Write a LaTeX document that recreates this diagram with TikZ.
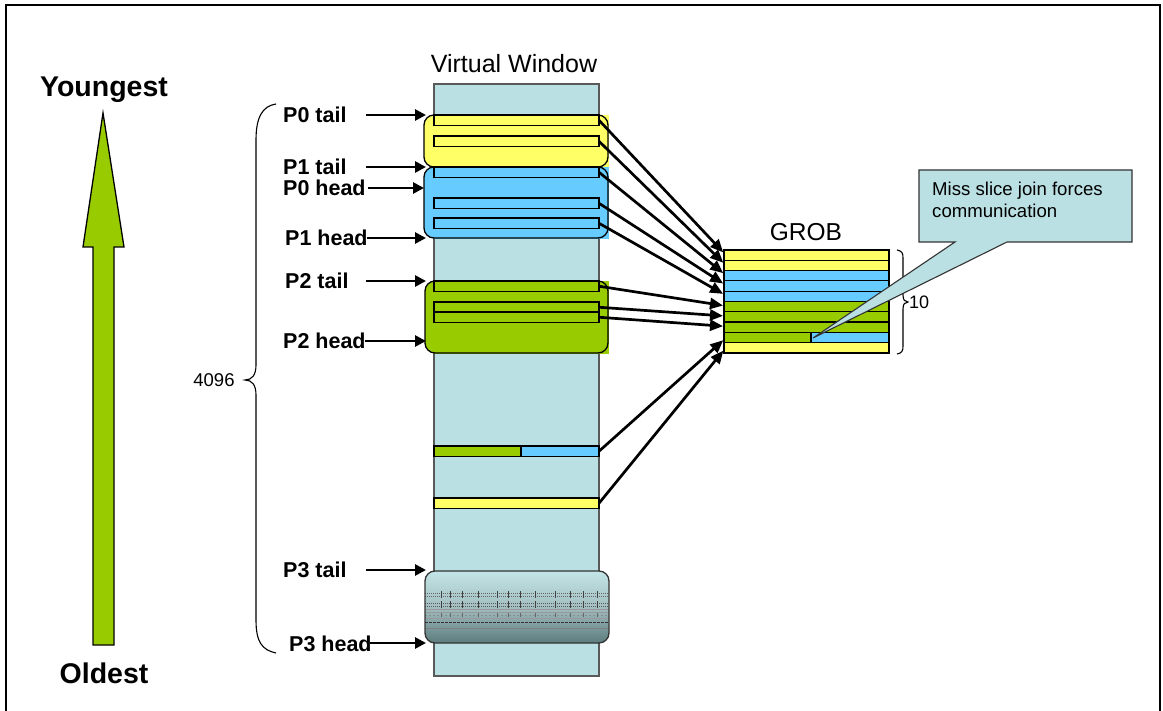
\documentclass[tikz,border=0pt]{standalone}
\usepackage{fontspec}
\setmainfont{Liberation Sans}
\usetikzlibrary{arrows.meta}
\definecolor{colbg}{HTML}{BBE0E3}
\definecolor{ylw}{HTML}{FFFF66}
\definecolor{blu}{HTML}{66CCFF}
\definecolor{grn}{HTML}{99CC00}
\definecolor{p3top}{HTML}{C4E5E7}
\definecolor{p3mid}{HTML}{A2BEC0}
\definecolor{p3bot}{HTML}{5C7C7D}
\tikzset{
  slot/.style={draw=black, line width=1.3pt, anchor=north west, inner sep=0pt, outer sep=0pt, minimum width=165pt, minimum height=10.5pt},
  grobrow/.style={draw=black, line width=1.2pt, anchor=north west, inner sep=0pt, outer sep=0pt, minimum width=165pt, minimum height=10.3pt},
  regline/.style={draw=black, line width=1.3pt, rounded corners=10pt},
  lab/.style={font=\bfseries\fontsize{21.5}{24}\selectfont, anchor=base west, inner sep=0pt},
  big/.style={font=\bfseries\fontsize{28.5}{32}\selectfont, anchor=base, inner sep=0pt},
  ptr/.style={line width=2.7pt, -{Triangle[length=11pt,width=11pt]}},
  garr/.style={line width=2.7pt, -{Triangle[length=13pt,width=11pt]}, shorten >=1pt},
  brace/.style={line width=1.1pt, draw=black},
}
\begin{document}
\begin{tikzpicture}[x=1pt,y=-1pt]
\useasboundingbox (0,0) rectangle (1163,711);
\fill[white] (0,0) rectangle (1163,711);
\draw[line width=2pt] (6,5) rectangle (1160,725);

% big green arrow
\draw[fill=grn, line width=1.3pt, line join=miter] (93,645) -- (93,247) -- (83,247) -- (103,113) -- (124,247) -- (114,247) -- (114,645) -- cycle;
\node[big] (young) at (104,97) {Youngest};
\node[big] (old) at (104,683) {Oldest};

% virtual window column
\node[anchor=base, inner sep=0pt, font=\fontsize{25}{28}\selectfont] (vw) at (514,73) {Virtual Window};
\draw[fill=colbg, draw=black!65, line width=1.1pt] (434,84) rectangle (599,676);

% yellow region
\fill[ylw] (434,115) rectangle (609,167);
\fill[ylw, rounded corners=10pt] (424,115) rectangle (608,167);
\draw[regline] (424,115) rectangle (608,167);
\node[slot, fill=ylw] (ys1) at (434,115) {};
\node[slot, fill=ylw] (ys2) at (434,136) {};

% blue region
\fill[blu] (434,167) rectangle (609,239);
\fill[blu, rounded corners=10pt] (424,167) rectangle (608,238);
\draw[regline] (424,167) rectangle (608,238);
\node[slot, fill=blu] (bs1) at (434,167) {};
\node[slot, fill=blu] (bs2) at (434,198) {};
\node[slot, fill=blu] (bs3) at (434,218) {};

% green region
\fill[grn] (434,281) rectangle (609,354);
\fill[grn, rounded corners=10pt] (425,281) rectangle (608,353);
\draw[regline] (425,281) rectangle (608,353);
\node[slot, fill=grn] (gs1) at (434,281) {};
\node[slot, fill=grn] (gs2) at (434,302) {};
\node[slot, fill=grn] (gs3) at (434,312) {};

% lone slots
\node[slot, fill=grn, minimum width=87pt] (mg) at (434,446) {};
\node[slot, fill=blu, minimum width=78pt] (mb) at (521,446) {};
\node[slot, fill=ylw] (yl) at (434,498) {};

% P3 region
\begin{scope}
\clip[rounded corners=10pt] (425,571) rectangle (609,643);
\shade[top color=p3top, bottom color=p3bot, middle color=p3mid] (425,571) rectangle (609,643);
\draw[black!60, line width=0.9pt, dash pattern=on 1pt off 1pt] (425,593) -- (609,593);
\draw[black!60, line width=0.9pt, dash pattern=on 1pt off 1pt] (425,596) -- (609,596);
\draw[black!65, line width=0.9pt, dash pattern=on 1pt off 1pt] (425,603) -- (609,603);
\draw[black!65, line width=0.9pt, dash pattern=on 1pt off 1pt] (425,606) -- (609,606);
\draw[black!40, line width=0.8pt] (425,609) -- (609,609);
\draw[black!40, line width=0.8pt] (425,612) -- (609,612);
\draw[black!45, line width=0.8pt, dash pattern=on 2pt off 2pt] (425,615) -- (609,615);
\draw[black!40, line width=0.8pt] (425,618) -- (609,618);
\draw[black!80, line width=0.8pt, dash pattern=on 3pt off 1pt] (425,622) -- (609,622);
\draw[black!50, line width=0.8pt] (425,628) -- (609,628);
\foreach \xx in {441,450,462,478,497,508,520,535,555,570,583,597}{
  \draw[black!75, line width=0.9pt] (\xx,591) -- (\xx,598);
  \draw[black!75, line width=0.9pt] (\xx,601) -- (\xx,608);
  \draw[black!60, line width=0.7pt] (\xx,613) -- (\xx,617);
}
\end{scope}
\draw[regline, draw=black!80] (425,571) rectangle (609,643);

% left labels
\node[lab] (l0t) at (283,123) {P0 tail};
\node[lab] (l1t) at (283,174.5) {P1 tail};
\node[lab] (l0h) at (283,196) {P0 head};
\node[lab] (l1h) at (285,246) {P1 head};
\node[lab] (l2t) at (285,289) {P2 tail};
\node[lab] (l2h) at (283,349) {P2 head};
\node[lab] (l3t) at (283,577) {P3 tail};
\node[lab] (l3h) at (289,651) {P3 head};

\coordinate (s0t) at (366,115); \coordinate (e0t) at (426,115);
\coordinate (s1t) at (366,167); \coordinate (e1t) at (426,167);
\coordinate (s0h) at (368,188); \coordinate (e0h) at (424,188);
\coordinate (s1h) at (367,238); \coordinate (e1h) at (426,238);
\coordinate (s2t) at (366,281); \coordinate (e2t) at (426,281);
\coordinate (s2h) at (365,341); \coordinate (e2h) at (426,341);
\coordinate (s3t) at (366,570); \coordinate (e3t) at (426,570);
\coordinate (s3h) at (370,643); \coordinate (e3h) at (426,643);
\foreach \n in {0t,1t,0h,1h,2t,2h,3t,3h}{ \draw[ptr] (s\n) -- (e\n); }

% big brace with count
\draw[brace] (276,104) .. controls (262,106) and (256,118) .. (256,140) -- (256,365) .. controls (256,375) and (252,380) .. (245,380) .. controls (252,380) and (256,385) .. (256,395) -- (256,620) .. controls (256,642) and (262,650) .. (276,653);
\node[font=\fontsize{18.5}{22}\selectfont, inner sep=0pt] (n4096) at (214,380) {4096};

% GROB
\node[anchor=base, inner sep=0pt, font=\fontsize{24.5}{28}\selectfont] (grobl) at (806,241) {GROB};
\node[grobrow, fill=ylw] (r1) at (724,250) {};
\node[grobrow, fill=ylw] (r2) at (724,260.3) {};
\node[grobrow, fill=blu] (r3) at (724,270.6) {};
\node[grobrow, fill=blu] (r4) at (724,280.9) {};
\node[grobrow, fill=blu] (r5) at (724,291.2) {};
\node[grobrow, fill=grn] (r6) at (724,301.5) {};
\node[grobrow, fill=grn] (r7) at (724,311.8) {};
\node[grobrow, fill=grn] (r8) at (724,322.1) {};
\node[grobrow, fill=grn, minimum width=87pt] (r9) at (724,332.4) {};
\node[grobrow, fill=blu, minimum width=78pt] (r9b) at (811,332.4) {};
\node[grobrow, fill=ylw] (r10) at (724,342.7) {};

\draw[garr] (ys1.east) -- ([yshift=2pt]r1.west);
\draw[garr] (ys2.east) -- ([yshift=2pt]r2.west);
\draw[garr] (bs1.east) -- ([yshift=2pt]r3.west);
\draw[garr] (bs2.east) -- ([yshift=2pt]r4.west);
\draw[garr] (bs3.east) -- ([yshift=2pt]r5.west);
\draw[garr] (gs1.east) -- ([yshift=1pt]r6.west);
\draw[garr] (gs2.east) -- ([yshift=1pt]r7.west);
\draw[garr] (gs3.east) -- ([yshift=1pt]r8.west);
\draw[garr] (mb.east) -- ([yshift=-2pt]r9.west);
\draw[garr] (yl.east) -- ([yshift=-2pt]r10.west);

% GROB brace
\draw[brace] (897,250) .. controls (902,251) and (903,253) .. (903,258) -- (903,295) .. controls (903,300) and (905,302) .. (908,302) .. controls (905,302) and (903,304) .. (903,309) -- (903,346) .. controls (903,351) and (902,353) .. (897,354);
\node[font=\fontsize{18}{21}\selectfont, inner sep=0pt, anchor=west] (n10) at (909,302) {10};

% callout
\draw[fill=colbg, draw=black!80, line width=1.1pt, line join=miter] (919,170) -- (1132,170) -- (1132,242) -- (1007,242) -- (813,338) -- (955,242) -- (919,242) -- cycle;
\node[anchor=north west, inner sep=0pt, align=left, font=\fontsize{18.6}{22}\selectfont] (callt) at (932,181.5) {Miss slice join forces\\communication};
\end{tikzpicture}
\end{document}
